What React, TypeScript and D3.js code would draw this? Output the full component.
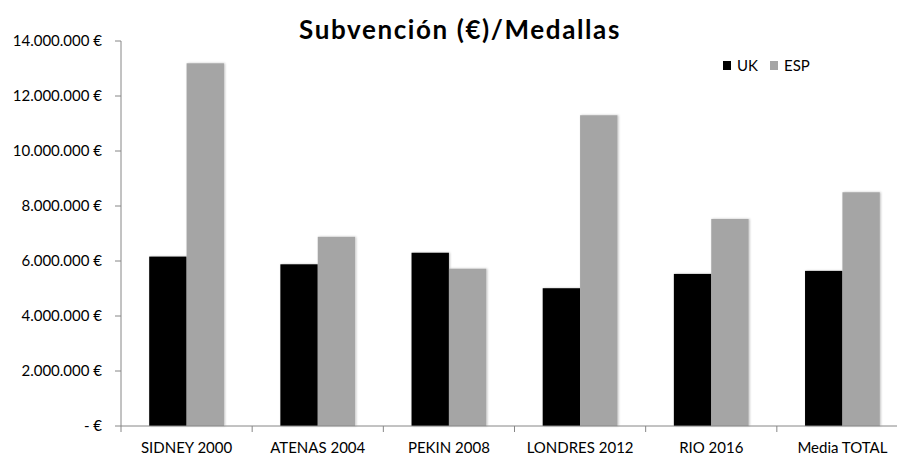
import { useMemo } from "react";
import * as d3 from "d3";

const CATEGORIES = ["SIDNEY 2000", "ATENAS 2004", "PEKIN 2008", "LONDRES 2012", "RIO 2016", "Media TOTAL"];
const UK = [6160000, 5880000, 6300000, 5010000, 5530000, 5640000];
const ESP = [13190000, 6880000, 5720000, 11300000, 7530000, 8500000];
const SERIES = ["UK", "ESP"];
const Y_TICKS = [0, 2000000, 4000000, 6000000, 8000000, 10000000, 12000000, 14000000];

const COLORS: Record<string, string> = { UK: "#000000", ESP: "#a5a5a5" };
const FONT = "Lato, 'Open Sans', sans-serif";

const fmt = (v: number) =>
  v === 0 ? "- €" : d3.format(",")(v).replace(/,/g, ".") + " €";

export default function App() {
  const width = 897;
  const height = 456;
  const left = 121;
  const right = 908;
  const top = 41;
  const bottom = 426;

  const x = useMemo(
    () => d3.scaleBand<string>().domain(CATEGORIES).range([left, right]).paddingInner(0.43).paddingOuter(0.215),
    []
  );
  const xOuter = useMemo(() => d3.scaleBand<string>().domain(CATEGORIES).range([left, right]), []);
  const xSub = useMemo(() => d3.scaleBand<string>().domain(SERIES).range([0, x.bandwidth()]), [x]);
  const y = useMemo(() => d3.scaleLinear().domain([0, 14000000]).range([bottom, top]), []);

  const data: Record<string, number[]> = { UK, ESP };
  const boundaries = [...CATEGORIES.map((c) => xOuter(c)!), right];

  return (
    <svg width={width} height={height} style={{ position: "absolute", left: 0, top: 0, background: "#fff" }}>
      <defs>
        <filter id="shadow" x="-20%" y="-5%" width="140%" height="110%">
          <feDropShadow dx="1" dy="0" stdDeviation="1" floodColor="#000" floodOpacity="0.25" />
        </filter>
      </defs>
      <text x={460} y={39} textAnchor="middle" fontFamily={FONT} fontWeight="bold" fontSize={26} letterSpacing={1.6} fill="#000">
        Subvención (€)/Medallas
      </text>

      {/* y axis */}
      <line x1={left} x2={left} y1={top} y2={bottom} stroke="#868686" />
      {Y_TICKS.map((t) => (
        <g key={t}>
          <line x1={left - 6} x2={left} y1={y(t)} y2={y(t)} stroke="#868686" />
          <text x={102} y={y(t) + 5} textAnchor="end" fontFamily={FONT} fontSize={15} fill="#000">
            {fmt(t)}
          </text>
        </g>
      ))}

      {/* bars */}
      {SERIES.map((s) =>
        CATEGORIES.map((c, i) => (
          <rect
            key={s + c}
            x={x(c)! + xSub(s)!}
            y={y(data[s][i])}
            width={xSub.bandwidth()}
            height={bottom - y(data[s][i])}
            fill={COLORS[s]}
            filter="url(#shadow)"
          />
        ))
      )}

      {/* x axis */}
      <line x1={left} x2={right} y1={bottom} y2={bottom} stroke="#868686" />
      {boundaries.map((b, i) => (
        <line key={i} x1={b} x2={b} y1={bottom} y2={bottom + 6} stroke="#868686" />
      ))}
      {CATEGORIES.map((c) => (
        <text key={c} x={xOuter(c)! + xOuter.bandwidth() / 2} y={453} textAnchor="middle" fontFamily={FONT} fontSize={15} fill="#000">
          {c}
        </text>
      ))}

      {/* legend */}
      {SERIES.map((s, i) => (
        <g key={s} transform={`translate(${723 + i * 47},61)`}>
          <rect width={8} height={9} fill={COLORS[s]} />
          <text x={14} y={10} fontFamily={FONT} fontSize={15} fill="#000">
            {s}
          </text>
        </g>
      ))}
    </svg>
  );
}
